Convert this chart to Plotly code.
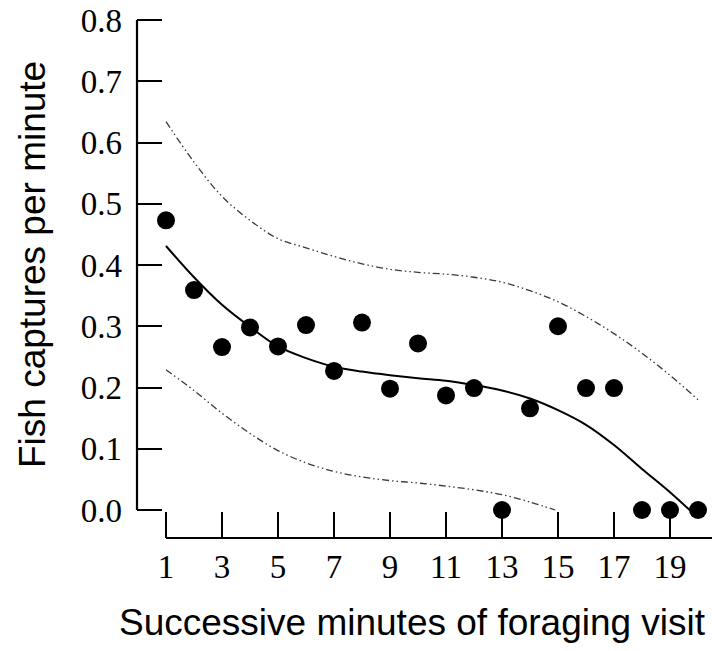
import plotly.graph_objects as go

# Observed data
minutes = list(range(1, 21))
captures = [0.473, 0.359, 0.266, 0.298, 0.267, 0.302, 0.227, 0.306, 0.198, 0.272,
            0.187, 0.199, 0.0, 0.166, 0.300, 0.199, 0.199, 0.0, 0.0, 0.0]

# Fitted curve
fit_x = [1, 2, 3, 4, 5, 6, 7, 8, 9, 10, 11, 12, 13, 14, 15, 16, 17, 18, 19, 19.7]
fit_y = [0.431, 0.380, 0.335, 0.299, 0.267, 0.248, 0.234, 0.226, 0.220, 0.215,
         0.211, 0.204, 0.195, 0.182, 0.163, 0.139, 0.106, 0.067, 0.029, 0.0]

# Upper confidence band
up_x = [1, 2, 3, 4, 5, 6, 7, 8, 9, 10, 11, 12, 13, 14, 15, 16, 17, 18, 19, 20]
up_y = [0.634, 0.568, 0.512, 0.473, 0.443, 0.428, 0.414, 0.402, 0.393, 0.388,
        0.385, 0.380, 0.372, 0.358, 0.340, 0.316, 0.288, 0.256, 0.220, 0.180]

# Lower confidence band
lo_x = [1, 2, 3, 4, 5, 6, 7, 8, 9, 10, 11, 12, 13, 14, 14.9]
lo_y = [0.229, 0.195, 0.158, 0.125, 0.097, 0.077, 0.063, 0.054, 0.048, 0.044,
        0.039, 0.033, 0.025, 0.013, 0.0]

y_ticks = [0.0, 0.1, 0.2, 0.3, 0.4, 0.5, 0.6, 0.7, 0.8]
x_ticks = [1, 3, 5, 7, 9, 11, 13, 15, 17, 19]

band_dash = "7px,3px,1.5px,3px,1.5px,3px"

fig = go.Figure()
fig.add_trace(go.Scatter(x=up_x, y=up_y, mode="lines", line_shape="spline",
                         line=dict(color="#3a3a3a", width=1.3, dash=band_dash),
                         hoverinfo="skip", cliponaxis=False))
fig.add_trace(go.Scatter(x=lo_x, y=lo_y, mode="lines", line_shape="spline",
                         line=dict(color="#3a3a3a", width=1.3, dash=band_dash),
                         hoverinfo="skip", cliponaxis=False))
fig.add_trace(go.Scatter(x=fit_x, y=fit_y, mode="lines", line_shape="spline",
                         line=dict(color="black", width=2), cliponaxis=False))
fig.add_trace(go.Scatter(x=minutes, y=captures, mode="markers",
                         marker=dict(color="black", size=18), cliponaxis=False))

tick_font = dict(family="Liberation Serif, Times New Roman, serif", size=33, color="black")
title_font = dict(family="Liberation Sans, Arial, sans-serif", size=37, color="black")

fig.update_layout(
    width=712, height=651,
    margin=dict(l=137, r=0, t=16, b=113),
    paper_bgcolor="white", plot_bgcolor="white",
    showlegend=False,
    xaxis=dict(range=[-0.0357, 20.5], tickvals=x_ticks, ticktext=[str(v) for v in x_ticks],
               ticks="inside", ticklen=26, tickwidth=1.5, tickcolor="black",
               showgrid=False, zeroline=False, showline=False, automargin=False,
               tickfont=tick_font, ticklabelstandoff=6, ticklabeloverflow="allow"),
    yaxis=dict(range=[-0.04571, 0.80653], tickvals=y_ticks, ticktext=[f"{v:.1f}" for v in y_ticks],
               ticks="inside", ticklen=25, tickwidth=1.5, tickcolor="black",
               showgrid=False, zeroline=False, showline=False, automargin=False,
               tickfont=tick_font, ticklabelstandoff=14, ticklabeloverflow="allow"),
    shapes=[
        dict(type="line", xref="paper", yref="y", x0=0, x1=0, y0=0, y1=0.8,
             line=dict(color="black", width=2.2)),
        dict(type="line", xref="x", yref="paper", x0=1, x1=20.5, y0=0, y1=0,
             line=dict(color="black", width=2.2)),
    ],
    annotations=[
        dict(text="Successive minutes of foraging visit", xref="paper", yref="paper",
             x=(412 - 137) / 575, y=(538 - 622) / 522, xanchor="center", yanchor="middle",
             showarrow=False, font=title_font),
        dict(text="Fish captures per minute", xref="paper", yref="paper",
             x=-(137 - 32) / 575, y=(538 - 265) / 522, xanchor="center", yanchor="middle",
             textangle=-90, showarrow=False, font=title_font),
    ],
)

fig.write_html("out.html", config={"displayModeBar": False},
               post_script="document.body.style.margin='0';document.body.style.overflow='hidden';")
